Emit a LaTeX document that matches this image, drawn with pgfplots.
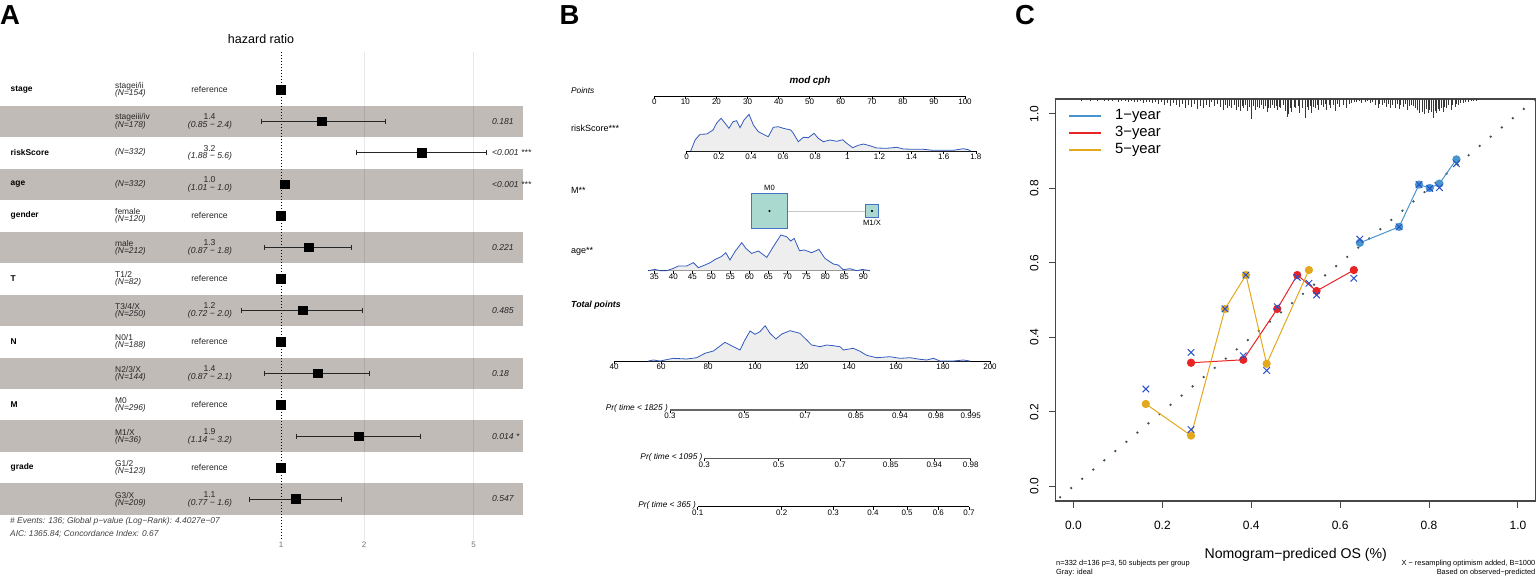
\documentclass[border=0pt]{standalone}
\usepackage{fontspec}
\setmainfont{Liberation Sans}
\usepackage{pgfplots}
\usepackage{pgfplotstable}
\pgfplotsset{compat=1.18}
\newcommand{\fs}[1]{\fontsize{#1}{#1}\selectfont}

\definecolor{band}{RGB}{193,187,184}
\definecolor{dens}{RGB}{50,90,190}
\definecolor{densfill}{RGB}{238,238,238}
\definecolor{mfill}{RGB}{170,218,207}
\definecolor{mline}{RGB}{70,115,200}
\definecolor{oneyr}{RGB}{72,148,204}
\definecolor{threeyr}{RGB}{232,36,36}
\definecolor{fiveyr}{RGB}{228,168,28}
\definecolor{xblue}{RGB}{40,80,200}
\definecolor{ideal}{RGB}{62,82,82}

\pgfplotsset{
  every axis/.append style={/pgf/number format/assume math mode=true},
  nomo/.style={scale only axis, anchor=south west, clip=false,
    hide y axis, axis x line*=bottom, ymin=0,
    x axis line style={black, line width=0.6pt},
    xtick align=outside, major tick length=3pt,
    tick style={black, line width=0.5pt},
    xticklabel style={font=\fs{8}, anchor=north, inner sep=0pt, yshift=0pt}},
  ci/.style={black!85, line width=0.8pt, mark=|, mark size=2.5pt, mark options={solid}},
}

\begin{document}

% nomogram densities (x in variable units, height in arbitrary units)
\pgfplotstableread[row sep=\\]{x y\\
0.025 0\\ 0.052 11\\ 0.083 16.7\\ 0.125 17\\ 0.164 21\\ 0.187 28\\ 0.214 32.7\\ 0.238 28\\
0.263 22.7\\ 0.288 29.3\\ 0.311 30.3\\ 0.332 23.3\\ 0.357 31\\ 0.388 36.7\\ 0.415 26\\
0.446 19.3\\ 0.477 16.7\\ 0.508 14.3\\ 0.539 23.7\\ 0.570 24.3\\ 0.601 22.7\\ 0.648 21\\
0.664 17.7\\ 0.695 9.3\\ 0.726 13.7\\ 0.757 13.3\\ 0.793 17.7\\ 0.819 12.7\\ 0.851 9.3\\
0.892 11\\ 0.934 9.7\\ 0.971 11.3\\ 0.996 7.7\\ 1.034 3.3\\ 1.068 5.7\\ 1.100 7\\ 1.131 5.7\\
1.183 3\\ 1.245 2.7\\ 1.308 3.7\\ 1.349 2\\ 1.411 1.7\\ 1.473 1.7\\ 1.535 0.7\\ 1.660 0.7\\
1.722 2.3\\ 1.753 1.3\\ 1.768 0\\}\riskdens

\pgfplotstableread[row sep=\\]{x y\\
33.42 0\\ 35.18 1.3\\ 36.5 0\\ 38.26 0\\ 40.0 2.3\\ 41.3 4.7\\ 43.5 4.7\\ 45.3 8\\ 46.6 3\\
48.3 5.7\\ 49.7 8\\ 51.0 11.3\\ 52.6 14\\ 53.8 18\\ 54.9 10.7\\ 56.2 19\\ 58.0 28\\ 59.1 22.3\\
60.6 17.3\\ 62.4 19.7\\ 64.6 13.3\\ 66.3 24\\ 68.3 35.7\\ 69.8 34\\ 70.9 29.7\\ 71.8 32.3\\
73.2 20\\ 74.5 20.7\\ 76.4 18\\ 78.3 21.3\\ 79.9 12.3\\ 82.1 6.7\\ 83.4 5.7\\ 84.7 1\\
86.5 2\\ 88.3 0\\ 89.8 1.3\\ 91.7 0\\}\agedens

\pgfplotstableread[row sep=\\]{x y\\
54.6 0\\ 56.7 1\\ 59.6 0\\ 65.2 2.7\\ 70.9 2\\ 75.2 3.3\\ 78.7 7.7\\ 82.3 10\\ 87.2 18.7\\
90.8 14.3\\ 93.6 11\\ 95.7 21\\ 97.9 30\\ 100.0 26.7\\ 102.1 29.3\\ 104.3 35.3\\ 106.4 27.7\\
108.9 22\\ 111.4 27\\ 114.9 30.3\\ 119.1 27.7\\ 122.0 21\\ 124.1 16\\ 127.7 14.3\\ 130.5 16\\
133.3 15.3\\ 136.2 14.3\\ 137.6 11\\ 141.8 12.7\\ 144.7 9.7\\ 147.5 5.7\\ 151.8 3.3\\
157.4 4.3\\ 161.7 2.7\\ 166.0 3.3\\ 170.2 1.7\\ 173.1 1\\ 175.9 2.7\\ 178.7 0\\ 184.4 0\\
188.6 1\\ 191.5 0\\}\tpdens

% rug of predicted probabilities (x, line length in px)
\pgfplotstableread[row sep=\\]{x h\\
0.017 1.5\\ 0.029 1\\ 0.038 2\\ 0.044 1\\ 0.053 1.5\\ 0.060 1\\ 0.069 2\\ 0.078 1.5\\ 0.087 2\\
0.094 1\\ 0.100 2.5\\ 0.107 2\\ 0.116 1.5\\ 0.123 3\\ 0.130 2\\ 0.137 2.5\\ 0.143 3\\ 0.150 2\\
0.157 3.5\\ 0.163 2.5\\ 0.170 3\\ 0.177 4\\ 0.184 3\\ 0.190 5\\ 0.197 3\\ 0.204 6\\ 0.211 4\\
0.217 7\\ 0.224 4\\ 0.231 6\\ 0.238 8\\ 0.244 5\\ 0.251 9\\ 0.258 6\\ 0.264 8\\ 0.271 5\\
0.278 10\\ 0.285 7\\ 0.291 9\\ 0.298 6\\ 0.305 8\\ 0.311 3\\ 0.316 7\\ 0.323 5\\ 0.330 8\\
0.337 11\\ 0.341 6\\ 0.346 9\\ 0.351 7\\ 0.356 9\\ 0.361 6\\ 0.366 11\\ 0.370 8\\ 0.375 12\\
0.379 7\\ 0.382 9\\ 0.386 6\\ 0.391 12\\ 0.396 8\\ 0.401 20\\ 0.405 7\\ 0.408 11\\ 0.413 8\\
0.418 9\\ 0.422 6\\ 0.426 10\\ 0.431 7\\ 0.435 13\\ 0.439 9\\ 0.442 9\\ 0.447 6\\ 0.451 9\\
0.456 7\\ 0.458 11\\ 0.462 8\\ 0.466 9\\ 0.471 6\\ 0.476 12\\ 0.480 18\\ 0.483 15\\ 0.487 9\\
0.491 13\\ 0.496 8\\ 0.500 9\\ 0.505 7\\ 0.509 14\\ 0.515 9\\ 0.521 19\\ 0.525 8\\ 0.528 11\\
0.532 7\\ 0.536 14\\ 0.540 8\\ 0.543 9\\ 0.548 6\\ 0.551 11\\ 0.557 6\\ 0.562 8\\ 0.566 5\\
0.569 11\\ 0.576 6\\ 0.578 9\\ 0.584 6\\ 0.588 12\\ 0.594 5\\ 0.599 8\\ 0.607 6\\ 0.614 9\\
0.620 5\\ 0.626 4\\ 0.631 3\\ 0.637 3\\ 0.642 2\\ 0.648 4\\ 0.657 3\\ 0.662 2\\ 0.667 4\\
0.672 3\\ 0.678 6\\ 0.685 9\\ 0.689 5\\ 0.694 6\\ 0.699 4\\ 0.704 8\\ 0.708 5\\ 0.712 9\\
0.717 6\\ 0.723 9\\ 0.728 5\\ 0.732 10\\ 0.736 6\\ 0.742 8\\ 0.747 5\\ 0.751 11\\ 0.756 7\\
0.760 6\\ 0.765 7\\ 0.769 9\\ 0.774 11\\ 0.779 14\\ 0.784 13\\ 0.790 15\\ 0.794 10\\ 0.798 14\\
0.801 11\\ 0.804 13\\ 0.809 19\\ 0.813 12\\ 0.817 14\\ 0.821 10\\ 0.824 12\\ 0.828 9\\
0.831 13\\ 0.835 8\\ 0.839 9\\ 0.844 6\\ 0.849 11\\ 0.853 6\\ 0.858 8\\ 0.862 5\\ 0.865 6\\
0.871 4\\ 0.876 4\\ 0.882 3\\ 0.888 3\\ 0.894 2\\ 0.899 2\\ 0.906 1.5\\ 0.910 1\\}\rug

\begin{tikzpicture}
\useasboundingbox (0pt,0pt) rectangle (1536pt,-576pt);

% ---------------- panel A: table background ----------------
\begin{scope}[x=1pt,y=-1pt]
\foreach \r in {121.26,184.22,247.18,310.14,373.10,436.06,499.02}
  \fill[band] (0,\r-15.6) rectangle (523,\r+15.6);
\end{scope}

% forest plot
\begin{axis}[scale only axis, anchor=south west, at={(0pt,-540pt)},
  width=523pt, height=488pt,
  xmode=log, xmin=0.0956, xmax=7.55, ymin=-0.2, ymax=15.3, y dir=reverse,
  axis line style={draw=none}, major tick length=0pt, ytick=\empty,
  xtick={1,2,5}, xticklabels={1,2,5},
  xticklabel style={font=\fs{8}, text=black!55, anchor=north, inner sep=0pt, yshift=-2pt},
  clip=false]
\draw[black, opacity=0.09, line width=0.8pt] (axis cs:2,-0.2) -- (axis cs:2,15.3);
\draw[black, opacity=0.09, line width=0.8pt] (axis cs:5,-0.2) -- (axis cs:5,15.3);
\draw[black, line width=0.9pt, dash pattern=on 0.9pt off 2.1pt] (axis cs:1,-0.2) -- (axis cs:1,15.3);
\addplot[ci] coordinates {(0.85,2)(2.4,2)};
\addplot[ci] coordinates {(1.88,3)(5.57,3)};
\addplot[ci] coordinates {(1.01,4)(1.05,4)};
\addplot[ci] coordinates {(0.87,6)(1.8,6)};
\addplot[ci] coordinates {(0.72,8)(1.97,8)};
\addplot[ci] coordinates {(0.87,10)(2.1,10)};
\addplot[ci] coordinates {(1.14,12)(3.2,12)};
\addplot[ci] coordinates {(0.77,14)(1.65,14)};
\addplot[only marks, mark=square*, mark size=4.4pt, black] coordinates {
  (1,1)(1.4,2)(3.24,3)(1.034,4)(1,5)(1.26,6)(1,7)(1.2,8)(1,9)(1.36,10)(1,11)(1.91,12)(1,13)(1.13,14)};
\end{axis}

\begin{scope}[x=1pt,y=-1pt, every node/.style={inner sep=0pt}]
\node[anchor=north west, font=\bfseries\fs{27.5}] at (0,5) {A};
\node[font=\fs{12.5}] at (261,39.3) {hazard ratio};
% variable names
\foreach \r/\t in {89.78/stage,152.74/riskScore,184.22/age,215.70/gender,278.66/T,341.62/N,404.58/M,467.54/grade}
  \node[anchor=west, font=\bfseries\fs{8.4}] at (10.5,\r) {\t};
% levels
\begin{scope}[every node/.append style={anchor=west, text=black!85}]
\foreach \r/\a/\b in {89.78/stagei\slash ii/154, 121.26/stageiii\slash iv/178, 215.70/female/120,
   247.18/male/212, 278.66/T1\slash 2/82, 310.14/T3\slash 4\slash X/250, 341.62/N0\slash 1/188,
   373.10/N2\slash 3\slash X/144, 404.58/M0/296, 436.06/M1\slash X/36, 467.54/G1\slash 2/123,
   499.02/G3\slash X/209}{
  \node[font=\fs{8.4}] at (115,\r-3.8) {\a};
  \node[font=\itshape\fs{8.4}] at (115,\r+3.8) {(N=\b)};
}
\node[font=\itshape\fs{8.4}] at (115,152.74) {(N=332)};
\node[font=\itshape\fs{8.4}] at (115,184.22) {(N=332)};
\end{scope}
% hazard ratios
\begin{scope}[every node/.append style={text=black!85}]
\foreach \r in {89.78,215.70,278.66,341.62,404.58,467.54}
  \node[font=\fs{8.6}] at (209.5,\r) {reference};
\foreach \r/\h/\l/\u in {121.26/1.4/0.85/2.4, 152.74/3.2/1.88/5.6, 184.22/1.0/1.01/1.0,
   247.18/1.3/0.87/1.8, 310.14/1.2/0.72/2.0, 373.10/1.4/0.87/2.1, 436.06/1.9/1.14/3.2,
   499.02/1.1/0.77/1.6}{
  \node[font=\fs{8.6}] at (209.5,\r-4.6) {\h};
  \node[font=\itshape\fs{8.6}] at (210,\r+4) {(\l\ − \u)};
}
% p values
\foreach \r/\p in {121.26/0.181, 152.74/<0.001 ***, 184.22/<0.001 ***, 247.18/0.221,
   310.14/0.485, 373.10/0.18, 436.06/0.014 *, 499.02/0.547}
  \node[anchor=west, font=\itshape\fs{8.6}] at (492,\r) {\p};
\end{scope}
\node[anchor=west, font=\itshape\fs{8.4}, text=black!75] at (10,521.7) {\# Events: 136; Global p−value (Log−Rank): 4.4027e−07};
\node[anchor=west, font=\itshape\fs{8.4}, text=black!75] at (10,534) {AIC: 1365.84; Concordance Index: 0.67};
\end{scope}

% ---------------- panel B: nomogram ----------------
\begin{axis}[nomo, at={(654.3pt,-96pt)}, width=310.7pt, height=2pt, ymax=1,
  xmin=0, xmax=100, xtick={0,10,20,30,40,50,60,70,80,90,100}]
\addplot[draw=none] coordinates {(0,0)};
\end{axis}

\begin{axis}[nomo, at={(686.7pt,-151pt)}, width=289.1pt, height=40pt, ymax=40,
  xmin=0, xmax=1.8, xtick={0,0.2,0.4,0.6,0.8,1,1.2,1.4,1.6,1.8},
  xticklabels={0,0.2,0.4,0.6,0.8,1,1.2,1.4,1.6,1.8}]
\addplot[fill=densfill, draw=none] table {\riskdens} \closedcycle;
\addplot[dens, line width=0.8pt] table {\riskdens};
\end{axis}

\begin{axis}[at={(654.3pt,-211pt)}, anchor=south west, scale only axis,
  width=310.7pt, height=2pt, xmin=0, xmax=100, ymin=0, ymax=1, hide axis, clip=false]
\addplot[black!22, line width=0.8pt] coordinates {(37.08,0)(70.07,0)};
\addplot[only marks, mark=square*, mark size=17.6pt,
  mark options={fill=mfill, draw=mline, line width=0.9pt}] coordinates {(37.08,0)};
\addplot[only marks, mark=square*, mark size=6.2pt,
  mark options={fill=mfill, draw=mline, line width=0.9pt}] coordinates {(70.07,0)};
\addplot[only marks, mark=*, mark size=0.8pt, black] coordinates {(37.08,0)(70.07,0)};
\end{axis}

\begin{axis}[nomo, at={(648.3pt,-270.7pt)}, width=221.5pt, height=40pt, ymax=40,
  xmin=33.42, xmax=91.7, xtick={35,40,45,50,55,60,65,70,75,80,85,90}]
\addplot[fill=densfill, draw=none] table {\agedens} \closedcycle;
\addplot[dens, line width=0.8pt] table {\agedens};
\end{axis}

\begin{axis}[nomo, at={(614pt,-361pt)}, width=376pt, height=40pt, ymax=40,
  xmin=40, xmax=200, xtick={40,60,80,100,120,140,160,180,200}]
\addplot[fill=densfill, draw=none] table {\tpdens} \closedcycle;
\addplot[dens, line width=0.8pt] table {\tpdens};
\end{axis}

% probability scales, tick positions in total points
\begin{axis}[nomo, at={(670pt,-410pt)}, width=300.7pt, height=2pt, ymax=1,
  xmin=63.83, xmax=191.8, xtick={63.83,95.32,121.4,142.98,161.7,177.0,191.8},
  xticklabels={0.3,0.5,0.7,0.85,0.94,0.98,0.995},
  x axis line style={black!60, line width=1.5pt}]
\addplot[draw=none] coordinates {(100,0)};
\end{axis}
\begin{axis}[nomo, at={(704.3pt,-458.3pt)}, width=266.4pt, height=2pt, ymax=1,
  xmin=78.43, xmax=191.8, xtick={78.43,110.09,136.3,157.74,176.3,191.8},
  xticklabels={0.3,0.5,0.7,0.85,0.94,0.98},
  x axis line style={black!65, line width=1.1pt}]
\addplot[draw=none] coordinates {(100,0)};
\end{axis}
\begin{axis}[nomo, at={(697.7pt,-506.7pt)}, width=271.3pt, height=2pt, ymax=1,
  xmin=75.62, xmax=191.06, xtick={75.62,111.36,133.3,150.2,164.7,178.0,191.06},
  xticklabels={0.1,0.2,0.3,0.4,0.5,0.6,0.7},
  x axis line style={black, line width=0.7pt}]
\addplot[draw=none] coordinates {(100,0)};
\end{axis}

\begin{scope}[x=1pt,y=-1pt, every node/.style={inner sep=0pt}]
\node[anchor=north west, font=\bfseries\fs{27.5}] at (559.5,5) {B};
\node[font=\bfseries\itshape\fs{9.8}] at (810,80.7) {mod cph};
\node[anchor=west, font=\itshape\fs{8.3}] at (571,90.7) {Points};
\node[anchor=west, font=\fs{9}] at (571,128.7) {riskScore***};
\node[anchor=west, font=\fs{9}] at (571,190) {M**};
\node[anchor=west, font=\fs{9}] at (571,251.7) {age**};
\node[anchor=west, font=\bfseries\itshape\fs{8.8}] at (571,305) {Total points};
\node[font=\fs{7.6}] at (769.5,187.5) {M0};
\node[font=\fs{7.6}] at (872,222.5) {M1/X};
\node[anchor=east, font=\itshape\fs{8.3}] at (668,408.5) {Pr( time < 1825 )};
\node[anchor=east, font=\itshape\fs{8.3}] at (702.7,456.9) {Pr( time < 1095 )};
\node[anchor=east, font=\itshape\fs{8.3}] at (696,505.2) {Pr( time < 365 )};
\end{scope}

% ---------------- panel C: calibration ----------------
\begin{axis}[scale only axis, anchor=south west, at={(1055.7pt,-501pt)},
  width=480pt, height=402pt,
  xmin=-0.04, xmax=1.04, ymin=-0.04, ymax=1.04,
  axis line style={black!72, line width=1.1pt},
  tick align=outside, major tick length=7pt, tick style={black!72, line width=1pt},
  xtick pos=left, ytick pos=left,
  xtick={0,0.2,0.4,0.6,0.8,1}, xticklabels={0.0,0.2,0.4,0.6,0.8,1.0},
  ytick={0,0.2,0.4,0.6,0.8,1}, yticklabels={0.0,0.2,0.4,0.6,0.8,1.0},
  xticklabel style={font=\fs{12}, anchor=north, inner sep=0pt, yshift=-13.4pt},
  yticklabel style={font=\fs{12}, rotate=90, anchor=south, inner sep=0pt, yshift=10pt},
  clip=false]
\addplot[ideal, line width=2.6pt, line cap=round, dash pattern=on 0pt off 14.4pt]
  coordinates {(-0.03,-0.03)(1.04,1.04)};
\addplot[oneyr, line width=1pt, mark=*, mark size=3.6pt] coordinates {
  (0.6443,0.6536)(0.7326,0.6965)(0.7775,0.8101)(0.8016,0.8010)(0.8233,0.8127)(0.8616,0.8778)};
\addplot[threeyr, line width=1pt, mark=*, mark size=3.6pt] coordinates {
  (0.2645,0.3314)(0.3820,0.3394)(0.4584,0.4760)(0.5034,0.5671)(0.5469,0.5242)(0.6308,0.5805)};
\addplot[fiveyr, line width=1pt, mark=*, mark size=3.6pt] coordinates {
  (0.1627,0.2207)(0.2645,0.1358)(0.3409,0.4760)(0.3881,0.5671)(0.4346,0.3287)(0.5297,0.5805)};
\addplot[only marks, mark=x, mark size=4.6pt, xblue, line width=1pt] coordinates {
  (0.6443,0.6635)(0.7326,0.6965)(0.7775,0.8101)(0.8016,0.800)(0.8233,0.802)(0.8616,0.8663)
  (0.2645,0.359)(0.382,0.3501)(0.4584,0.4819)(0.5034,0.561)(0.5469,0.5135)(0.6308,0.5582)
  (0.1627,0.2609)(0.2645,0.1519)(0.3409,0.476)(0.3881,0.5671)(0.4346,0.3108)(0.5297,0.5448)};
\end{axis}

\begin{axis}[scale only axis, anchor=north west, at={(1055.7pt,-99pt)},
  width=480pt, height=20pt, xmin=-0.04, xmax=1.04, ymin=-20, ymax=0, hide axis, clip=false]
\addplot[draw=none, error bars/.cd, y dir=minus, y explicit, error mark=none,
  error bar style={draw=black!78, line width=0.6pt}]
  table[x=x, y expr=0, y error=h] {\rug};
\end{axis}

\begin{scope}[x=1pt,y=-1pt, every node/.style={inner sep=0pt}]
\node[anchor=north west, font=\bfseries\fs{27.5}] at (1015,5) {C};
\draw[oneyr, line width=1.6pt] (1069.3,116) -- (1100.7,116);
\draw[threeyr, line width=1.6pt] (1069.3,132.7) -- (1100.7,132.7);
\draw[fiveyr, line width=1.6pt] (1069.3,150) -- (1100.7,150);
\node[anchor=west, font=\fs{14.8}] at (1115,116) {1−year};
\node[anchor=west, font=\fs{14.8}] at (1115,132.7) {3−year};
\node[anchor=west, font=\fs{14.8}] at (1115,150) {5−year};
\node[font=\fs{14.1}] at (1295.7,555) {Nomogram−prediced OS (\%)};
\node[anchor=west, font=\fs{7.4}] at (1056,564) {n=332 d=136 p=3, 50 subjects per group};
\node[anchor=west, font=\fs{7.4}] at (1056,572.7) {Gray: ideal};
\node[anchor=east, font=\fs{7.4}] at (1535.5,564) {X − resampling optimism added, B=1000};
\node[anchor=east, font=\fs{7.4}] at (1535.5,572.7) {Based on observed−predicted};
\end{scope}
\end{tikzpicture}
\end{document}
